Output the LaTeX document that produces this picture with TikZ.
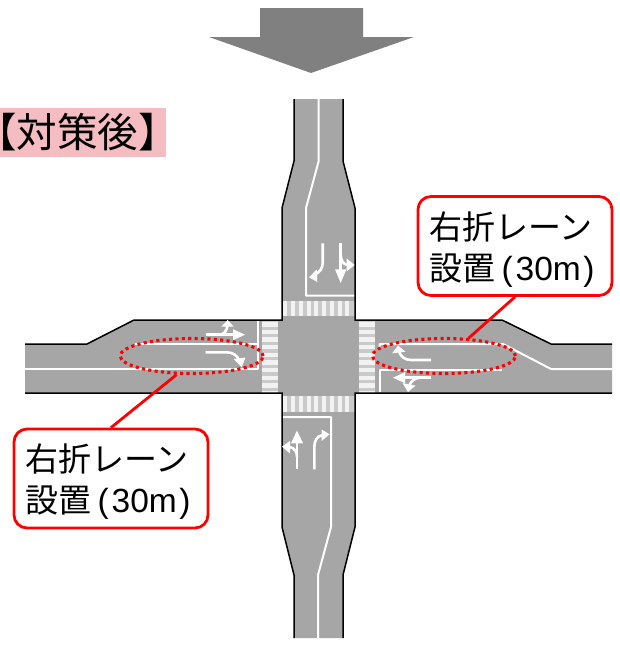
\documentclass[tikz,border=0pt]{standalone}
\usepackage{fontspec}
\setmainfont{Noto Sans CJK JP}
\newfontfamily\latfont{Liberation Sans}
\usetikzlibrary{shapes.geometric}
\definecolor{roadgray}{HTML}{A6A6A6}
\definecolor{bigarrow}{HTML}{808080}
\definecolor{titlepink}{HTML}{F5BDC1}
\definecolor{walkbase}{HTML}{CACACA}
\definecolor{walkstripe}{HTML}{F2F2F2}
\newcommand{\calloutlabel}{\hspace*{-6pt}\rule{0pt}{34pt}右折レーン\\[-1pt]\hspace*{-6pt}設置\kern6pt{\fontsize{33.5}{42}\latfont(}\kern3pt{\fontsize{33.5}{42}\latfont 30m}\kern2.5pt{\fontsize{33.5}{42}\latfont)}}
\tikzset{
  roadedge/.style={draw=black,line width=1.5pt,line join=miter},
  laneline/.style={draw=white,line width=2pt,line join=round},
  lanearrow/.style={draw=white,line width=2.6pt,line cap=butt},
  lanehead/.style={fill=white,draw=none},
  dotring/.style={ellipse,draw=red,line width=3.1pt,dash pattern=on 3.1pt off 3.3pt,minimum width=143pt,minimum height=35pt,inner sep=0pt},
  callout/.style={draw=red,fill=white,line width=2.8pt,rounded corners=13pt,minimum width=194pt,minimum height=99pt,inner sep=0pt,align=left,font=\fontsize{33}{42}\selectfont},
  leader/.style={draw=red,line width=2.8pt}
}
\begin{document}
\begin{tikzpicture}[x=1pt,y=-1pt]
\useasboundingbox (0,0) rectangle (619,645);
% big arrow
\fill[bigarrow] (260,8) -- (363,8) -- (363,37) -- (414,37) -- (311,73) -- (209,37) -- (260,37) -- cycle;
% title
\fill[titlepink] (0,108) rectangle (166,157);
\node[font=\fontsize{40.5}{40.5}\selectfont,inner sep=0pt,anchor=west] (title) at (0,132) {\kern-24pt【対策後】};
% road surface
\fill[roadgray] (294,99) -- (343,99) -- (343,161) -- (355,208) -- (355,320) -- (502,320) -- (551,344) -- (612,344) -- (612,393) -- (355,393) -- (355,527) -- (343,575) -- (343,638) -- (294,638) -- (294,575) -- (282,527) -- (282,393) -- (25,393) -- (25,344) -- (87,344) -- (134,320) -- (282,320) -- (282,208) -- (294,161) -- cycle;
% crosswalks
\fill[walkbase] (282,301) rectangle (355,316);
\fill[walkbase] (282,396) rectangle (355,412);
\fill[walkbase] (262,320) rectangle (278,393);
\fill[walkbase] (359,320) rectangle (375,393);
\foreach \i in {0,...,8}{
  \fill[walkstripe] ({283.3+7.75*\i},301) rectangle ({287.3+7.75*\i},316);
  \fill[walkstripe] ({283.3+7.75*\i},396) rectangle ({287.3+7.75*\i},412);
  \fill[walkstripe] (262,{322+7.65*\i}) rectangle (278,{326.5+7.65*\i});
  \fill[walkstripe] (359,{322+7.65*\i}) rectangle (375,{326.5+7.65*\i});
}
\fill[walkstripe] (262,390.8) rectangle (278,393);
\fill[walkstripe] (359,390.8) rectangle (375,393);
% road edges
\draw[roadedge] (294,99) -- (294,161) -- (282,208) -- (282,320) -- (134,320) -- (87,344) -- (25,344);
\draw[roadedge] (343,99) -- (343,161) -- (355,208) -- (355,320) -- (502,320) -- (551,344) -- (612,344);
\draw[roadedge] (25,393) -- (282,393) -- (282,527) -- (294,575) -- (294,638);
\draw[roadedge] (612,393) -- (355,393) -- (355,527) -- (343,575) -- (343,638);
% lane lines
\draw[laneline] (318.7,99) -- (318.7,161) -- (306,208) -- (306,295.7) -- (354,295.7);
\draw[laneline] (318,638) -- (318,575) -- (331,527) -- (331,417) -- (283,417);
\draw[laneline] (25,368.7) -- (258,368.7) -- (258,320.8);
\draw[laneline] (135,343.5) -- (258,343.5);
\draw[laneline] (612,369) -- (551,369) -- (503,344) -- (379.5,344) -- (379.5,349);
\draw[laneline] (379.5,392.2) -- (379.5,369.5) -- (502,369.5);
% lane arrows: west approach
\draw[lanearrow] (205.7,334.7) -- (234,334.7);
\draw[lanearrow] (219,334.7) .. controls (224,334.7) and (227,331) .. (227.5,325);
\fill[lanehead] (245,334.7) -- (233,329.2) -- (233,340.2) -- cycle;
\fill[lanehead] (227.7,320) -- (221.5,326.5) -- (233.5,326.5) -- cycle;
\draw[lanearrow] (205.7,352.3) -- (226,352.3) .. controls (233,352.3) and (237,355) .. (239.5,361);
\fill[lanehead] (241.7,367) -- (233.5,359) -- (245.5,357.5) -- cycle;
% lane arrows: east approach
\draw[lanearrow] (431,360) -- (411,360) .. controls (405,360) and (401,357) .. (398.8,351);
\fill[lanehead] (398,345.5) -- (392.2,353.3) -- (405.5,351.7) -- cycle;
\draw[lanearrow] (431,377.7) -- (404,377.7);
\fill[lanehead] (393,377.7) -- (405,372.2) -- (405,383.2) -- cycle;
\draw[lanearrow] (420,377.7) .. controls (415,378) and (411,381) .. (409.5,385);
\fill[lanehead] (408,392) -- (402.5,383) -- (415.5,385.7) -- cycle;
% lane arrows: north approach
\draw[lanearrow] (322.7,243.3) -- (322.7,263) .. controls (322.7,268) and (320,272) .. (315,274.5);
\fill[lanehead] (309,277.3) -- (316.7,269.5) -- (317.3,282) -- cycle;
\draw[lanearrow] (340.7,243.3) -- (340.7,270);
\fill[lanehead] (340.7,283) -- (335,269.3) -- (346.4,269.3) -- cycle;
\draw[lanearrow] (340.7,255) .. controls (341,260) and (343,264) .. (347,265);
\fill[lanehead] (354.5,265) -- (346.7,258.5) -- (346.7,271.5) -- cycle;
% lane arrows: south approach
\draw[lanearrow] (297,469.3) -- (297,443);
\fill[lanehead] (297,430.5) -- (291,443.3) -- (303,443.3) -- cycle;
\draw[lanearrow] (297,457) .. controls (297,452) and (295,448) .. (289.5,447);
\fill[lanehead] (282,446.7) -- (290,441) -- (290,453.5) -- cycle;
\draw[lanearrow] (314.3,469.3) -- (314.3,447) .. controls (314.3,441) and (317,436) .. (322,435.3);
\fill[lanehead] (329.5,434.3) -- (321.7,429.5) -- (321.7,441) -- cycle;
% dotted rings
\node[dotring] (lring) at (191.7,356) {};
\node[dotring] (rring) at (444,356) {};
% callouts
\node[callout] (rbox) at (515,246) {\calloutlabel};
\node[callout] (lbox) at (111,478.5) {\calloutlabel};
% leaders
\draw[leader] (rbox.south) -- (rring.36);
\draw[leader] (lbox.north) -- (lring.231);
\end{tikzpicture}
\end{document}
